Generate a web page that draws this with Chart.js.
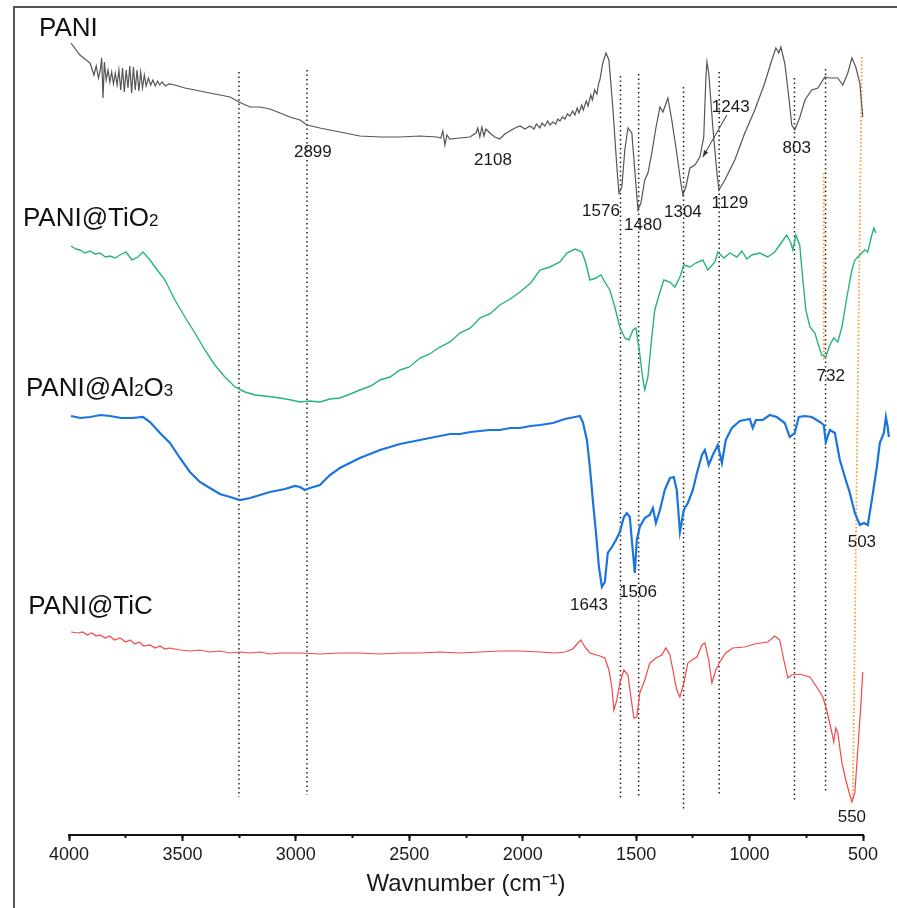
<!DOCTYPE html>
<html>
<head>
<meta charset="utf-8">
<script src="https://cdn.jsdelivr.net/npm/chart.js@4.4.0/dist/chart.umd.min.js"></script>
<style>
  html, body { margin: 0; padding: 0; background: #fff; }
  #wrap { position: relative; width: 897px; height: 908px; }
  #frame { position: absolute; left: 13px; top: 6px; right: 0; bottom: 0; border-top: 2px solid #555; border-left: 2px solid #555; pointer-events: none; }
</style>
</head>
<body>
<div id="wrap"><canvas id="ftir" width="897" height="908"></canvas><div id="frame"></div></div>
<script>
// wavenumbers (cm-1) and offset transmittance (a.u.)
const paniWave = [3991,3952,3907,3900,3890,3880,3870,3862,3856,3850,3844,3836,3828,3820,3812,3804,3796,3788,3780,3772,3764,3756,3748,3740,3732,3724,3716,3708,3700,3692,3684,3676,3668,3660,3650,3640,3630,3620,3610,3600,3590,3575,3560,
  3533,3489,3423,3357,3290,3251,3202,3158,3114,3070,3026,2982,2951,2894,2806,2718,2629,2541,2453,2378,2361,2352,2343,2334,2321,2277,2233,2206,2198,2189,2180,2171,2162,2145,2123,2101,2079,2057,2034,2012,1990,1968,
  1950,1940,1924,1915,1902,1890,1880,1867,1855,1845,1836,1825,1814,1803,1792,1780,1770,1760,1752,1740,1733,1720,1712,1700,1693,1683,1673,1665,1660,1647,1633,1620,1603,1585,1576,1563,1550,1536,1519,1506,1492,1479,1462,1448,1431,1413,1395,1382,1360,1343,1321,1303,1294,1281,1263,1241,1219,1202,1193,1188,1180,1162,1144,1135,1109,1065,1021,977,933,902,884,871,862,845,827,814,801,778,756,726,699,668,646,611,589,567,549,532,514,501];
const paniT = [792,780,772,767,760,769,757,765,777,737,773,755,765,753,763,751,762,750,765,745,767,743,765,747,769,742,768,745,765,744,763,747,760,749,757,750,755,749,754,750,753,749,751,
  750,747,744,741,738,733,728,728,726,722,718,715,710,707,703,699,698,698,699,698,697,704,690,700,696,697,698,702,707,698,708,699,706,702,698,696,701,704,707,709,706,709,
  706,711,707,712,709,714,710,713,711,716,714,718,716,721,719,724,720,727,722,730,725,734,729,740,735,745,741,752,755,772,782,775,728,668,642,648,685,707,702,665,625,632,655,662,682,707,728,723,737,715,682,652,640,648,667,670,678,698,755,773,762,708,662,645,655,675,702,725,752,775,787,782,788,772,738,710,705,718,735,745,747,758,757,757,750,762,777,768,752,718];

const tio2Wave = [3991,3970,3952,3930,3907,3885,3863,3840,3819,3797,3775,3749,3722,3696,3674,3643,3621,3577,3533,3489,3445,3401,3357,3313,3268,3224,3180,3136,3070,3020,2982,2940,2894,2850,2806,2760,2718,2670,2629,2585,2541,2500,2453,2410,2365,2320,2277,2230,2189,2145,2101,2055,2012,1965,1924,1880,1836,1805,1770,1739,1722,1704,1677,1655,1638,1616,1594,1572,1550,1532,1514,1501,1488,1470,1462,1448,1431,1418,1395,1378,1351,1329,1307,1290,1263,1237,1206,1184,1153,1140,1113,1087,1056,1034,1012,990,955,920,889,858,836,818,809,796,779,765,752,734,712,699,682,664,646,629,611,593,571,549,536,514,492,479,461,452,443];
const tio2T = [589,586,585,582,584,581,582,578,579,577,580,583,575,578,583,575,568,555,535,518,502,485,470,458,448,443,440,439,437,435,433,434,433,436,437,441,445,449,455,458,465,468,477,481,488,493,502,507,517,521,530,536,543,552,565,568,573,582,586,583,572,555,557,560,553,545,528,508,497,495,505,507,488,455,445,458,498,525,543,555,553,548,558,570,568,572,575,565,573,583,577,582,578,584,576,580,582,578,583,593,600,592,585,600,590,555,525,508,502,492,480,478,490,497,493,508,538,565,575,580,585,583,600,607,602];

const al2o3Wave = [3991,3950,3907,3860,3819,3770,3722,3674,3643,3599,3555,3511,3467,3423,3379,3335,3290,3246,3202,3158,3114,3048,3004,2982,2960,2938,2894,2850,2806,2718,2629,2541,2453,2410,2365,2320,2277,2230,2189,2145,2101,2055,2012,1965,1924,1867,1814,1770,1748,1735,1717,1704,1691,1677,1664,1651,1638,1625,1607,1589,1572,1554,1541,1528,1519,1506,1497,1484,1462,1440,1426,1413,1395,1374,1351,1334,1321,1307,1290,1272,1250,1232,1210,1197,1180,1162,1140,1122,1105,1078,1043,999,986,972,942,911,880,845,823,801,783,757,726,690,673,664,646,624,602,580,558,536,514,496,479,461,439,426,408,399,391,386];
const al2o3T = [419,417,418,420,419,417,417,418,413,402,392,377,363,353,347,341,338,335,337,340,343,346,349,348,345,347,350,360,367,377,385,391,395,397,399,401,401,403,404,405,405,407,407,409,410,412,416,418,419,413,395,368,335,302,268,248,253,282,288,295,303,318,322,318,295,262,295,308,317,320,327,312,325,345,357,358,345,303,325,332,345,362,380,385,370,380,390,372,395,407,414,416,407,415,415,420,418,412,398,402,418,419,418,413,410,393,405,402,375,358,342,322,310,312,310,335,368,392,402,418,408,398];

const ticWave = [3991,3960,3940,3920,3900,3880,3863,3840,3820,3800,3775,3750,3731,3710,3690,3670,3643,3620,3599,3577,3555,3511,3467,3423,3379,3335,3290,3246,3202,3158,3114,3070,2982,2894,2806,2718,2629,2541,2453,2365,2277,2189,2101,2012,1924,1858,1814,1779,1757,1744,1726,1704,1660,1638,1620,1607,1598,1585,1572,1554,1536,1523,1510,1497,1484,1462,1440,1413,1387,1369,1351,1338,1321,1307,1290,1272,1254,1232,1210,1197,1180,1166,1149,1131,1105,1074,1021,977,920,889,867,849,831,814,779,734,704,677,660,637,629,620,611,593,576,558,549,536,523,510,501];
const ticT = [203,202,203,200,202,199,200,197,199,195,197,193,195,191,193,189,190,187,189,186,187,185,184,185,183,184,182,183,182,183,181,182,182,181,182,182,181,182,182,183,182,183,184,184,183,182,183,186,192,195,188,182,179,177,165,148,125,135,152,165,160,138,117,118,142,155,172,177,180,187,180,165,145,138,152,172,175,178,190,192,175,152,165,173,182,187,188,191,193,199,195,175,157,160,161,158,148,138,125,102,93,107,102,72,55,40,33,42,85,128,163];

// dotted guide lines: wavenumber, top and bottom level
const guideWave = [3251, 2951, 1569, 1489, 1291, 1134, 802, 665];
const guideTop = [763, 765, 759, 761, 748, 763, 757, 766];
const guideBottom = [38, 40, 37, 38, 25, 40, 33, 43];
const orangeWaveTop = [505, 673];
const orangeWaveBottom = [545, 673];
const orangeTop = [778, 662];
const orangeBottom = [35, 475];

// peak labels
const peakText = ['2899', '2108', '1576', '1480', '1304', '1129', '1243', '803', '732', '1643', '1506', '503', '550'];
const peakWave = [2925, 2131, 1655, 1470, 1294, 1087, 1083, 792, 642, 1708, 1492, 505, 549];
const peakLevel = [683, 675, 624, 610, 623, 632, 728, 687, 459, 230, 243, 293, 18];

const seriesLabels = [
  [['PANI', false]],
  [['PANI@TiO', false], ['2', true]],
  [['PANI@Al', false], ['2', true], ['O', false], ['3', true]],
  [['PANI@TiC', false]]
];
const seriesLabelWave = [4132, 4203, 4190, 4180];
const seriesLabelLevel = [808, 618, 448, 230];

const FONT = "'Liberation Sans', Arial, sans-serif";

const toPoints = (w, t) => w.map((x, i) => ({ x: x, y: t[i] }));

const spectrum = (w, t, color, width) => ({
    data: toPoints(w, t),
    borderColor: color,
    borderWidth: width,
    pointRadius: 0,
    tension: 0,
    clip: false
});

const datasets = [
    spectrum(paniWave, paniT, '#555555', 1.2),
    spectrum(tio2Wave, tio2T, '#27b47c', 1.4),
    spectrum(al2o3Wave, al2o3T, '#1a74e0', 2.2),
    spectrum(ticWave, ticT, '#f24848', 1.2)
];

guideWave.forEach((w, i) => {
    datasets.push({
        data: [{ x: w, y: guideTop[i] }, { x: w, y: guideBottom[i] }],
        borderColor: '#222',
        borderWidth: 1.5,
        borderDash: [1.5, 3],
        pointRadius: 0,
        clip: false
    });
});
orangeWaveTop.forEach((w, i) => {
    datasets.push({
        data: [{ x: w, y: orangeTop[i] }, { x: orangeWaveBottom[i], y: orangeBottom[i] }],
        borderColor: '#f59a2c',
        borderWidth: 1.8,
        borderDash: [1.5, 2.2],
        pointRadius: 0,
        clip: false
    });
});

const annotations = {
    id: 'annotations',
    afterDatasetsDraw(chart) {
        const ctx = chart.ctx;
        const xs = chart.scales.x, ys = chart.scales.y;
        ctx.save();
        ctx.fillStyle = '#1a1a1a';
        ctx.font = '17px ' + FONT;
        ctx.textAlign = 'center';
        ctx.textBaseline = 'middle';
        peakText.forEach((t, i) => {
            ctx.fillText(t, xs.getPixelForValue(peakWave[i]), ys.getPixelForValue(peakLevel[i]));
        });

        // arrow for 1243
        const x1 = xs.getPixelForValue(1100), y1 = ys.getPixelForValue(720);
        const x2 = xs.getPixelForValue(1206), y2 = ys.getPixelForValue(678);
        ctx.strokeStyle = '#333';
        ctx.lineWidth = 1;
        ctx.beginPath();
        ctx.moveTo(x1, y1);
        ctx.lineTo(x2, y2);
        ctx.stroke();
        const a = Math.atan2(y2 - y1, x2 - x1);
        ctx.beginPath();
        ctx.moveTo(x2, y2);
        ctx.lineTo(x2 - 7 * Math.cos(a - 0.35), y2 - 7 * Math.sin(a - 0.35));
        ctx.lineTo(x2 - 7 * Math.cos(a + 0.35), y2 - 7 * Math.sin(a + 0.35));
        ctx.closePath();
        ctx.fillStyle = '#333';
        ctx.fill();

        // series names
        ctx.fillStyle = '#111';
        ctx.textAlign = 'left';
        ctx.textBaseline = 'alphabetic';
        seriesLabels.forEach((parts, i) => {
            let x = xs.getPixelForValue(seriesLabelWave[i]);
            const y = ys.getPixelForValue(seriesLabelLevel[i]) + 9;
            parts.forEach(([txt, sub]) => {
                ctx.font = (sub ? '17px ' : '26px ') + FONT;
                ctx.fillText(txt, x, y);
                x += ctx.measureText(txt).width;
            });
        });
        ctx.restore();
    }
};

new Chart(document.getElementById('ftir'), {
    type: 'scatter',
    data: { datasets: datasets },
    options: {
        responsive: false,
        animation: false,
        showLine: true,
        layout: { padding: { left: 69, right: 34, top: 35, bottom: 0 } },
        plugins: { legend: { display: false }, tooltip: { enabled: false } },
        scales: {
            x: {
                type: 'linear',
                reverse: true,
                min: 500,
                max: 4000,
                weight: 1,
                afterFit: (scale) => { scale.height = 73; },
                border: { display: true, color: '#111', width: 2 },
                grid: {
                    display: true,
                    drawOnChartArea: false,
                    drawTicks: true,
                    tickLength: 6,
                    tickColor: '#111',
                    tickWidth: 2
                },
                ticks: {
                    stepSize: 500,
                    autoSkip: false,
                    maxRotation: 0,
                    padding: 3,
                    color: '#1a1a1a',
                    font: { family: FONT, size: 18 },
                    callback: (v) => String(v)
                },
                title: {
                    display: true,
                    text: 'Wavnumber (cm⁻¹)',
                    color: '#1a1a1a',
                    font: { family: FONT, size: 24 },
                    padding: { top: 0, bottom: 9 }
                }
            },
            xMinor: {
                type: 'linear',
                position: 'bottom',
                reverse: true,
                min: 500,
                max: 4000,
                weight: 0,
                afterFit: (scale) => { scale.height = 0; },
                border: { display: false },
                grid: {
                    display: true,
                    drawOnChartArea: false,
                    drawTicks: true,
                    tickLength: 3,
                    tickColor: '#111',
                    tickWidth: 2
                },
                ticks: { stepSize: 250, autoSkip: false, display: false }
            },
            y: { display: false, min: 0, max: 800 }
        }
    },
    plugins: [annotations]
});
</script>
</body>
</html>
